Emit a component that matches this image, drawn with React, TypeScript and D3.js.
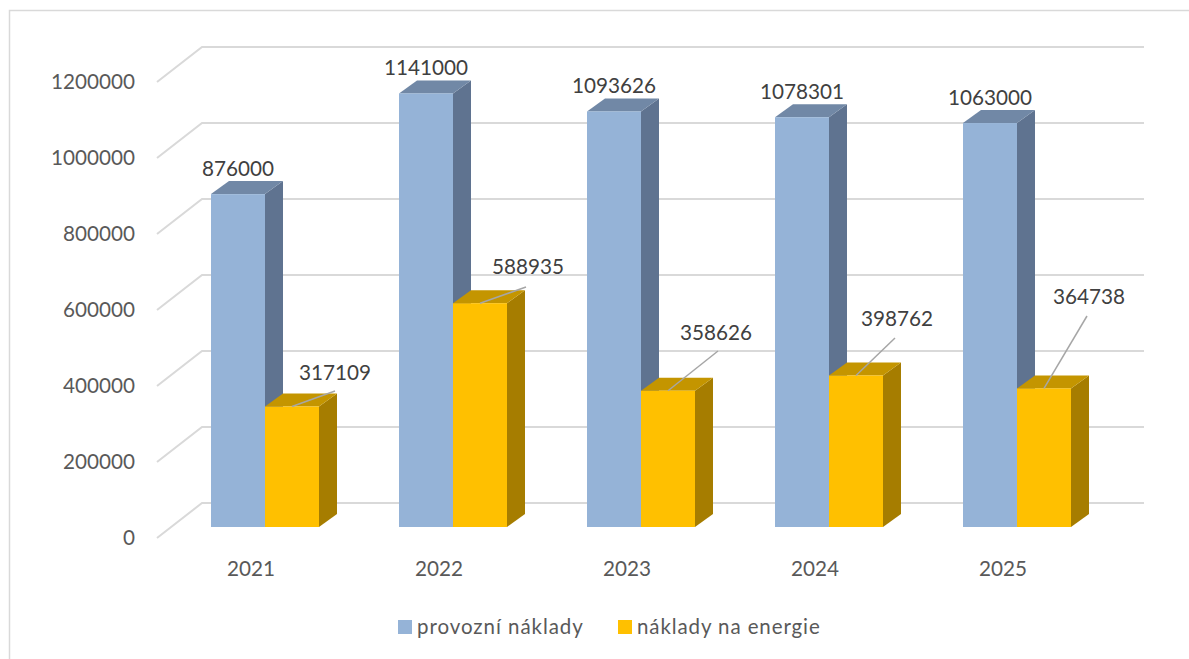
import React from "react";
import * as d3 from "d3";

const categories = ["2021", "2022", "2023", "2024", "2025"];
const provozni = [876000, 1141000, 1093626, 1078301, 1063000];
const energie = [317109, 588935, 358626, 398762, 364738];
const yTicks = [0, 200000, 400000, 600000, 800000, 1000000, 1200000];
const seriesNames = ["provozní náklady", "náklady na energie"];

const W = 1189, H = 659;
const font = "Lato, 'Open Sans', sans-serif";
const FRONT = { fill: "#95B3D7", side: "#5F7390", top: "#7188A6" };
const GOLD = { fill: "#FFC000", side: "#A67D00", top: "#C49500" };

const x = d3.scaleBand<string>().domain(categories).range([157, 1097]).paddingInner(0).paddingOuter(0);
const y = d3.scaleLinear().domain([0, 1200000]).range([527, 71]);
const barW = 54;
const depthX = 18, depthY = 13;
const wallTop = d3.scaleLinear().domain([0, 1200000]).range([503, 47]);
const tickY = d3.scaleLinear().domain([0, 1200000]).range([538, 82]);

// manual label placement for the second series
const energyLabelX = [335, 528, 716, 897, 1089];
const energyLabelY = [380, 274, 340, 326, 304];
const leaderEndX = [335, 526, 718, 895, 1087];
const leaderEndY = [391, 287, 351, 338, 316];

const fmt = (v: number) => String(v);

function Bar({ x0, value, c }: { x0: number; value: number; c: typeof FRONT }) {
  const yt = y(value), yb = y(0), x1 = x0 + barW;
  const top = d3.line()([[x0, yt], [x1, yt], [x1 + depthX, yt - depthY], [x0 + depthX, yt - depthY]]) + "Z";
  const side = d3.line()([[x1, yt], [x1 + depthX, yt - depthY], [x1 + depthX, yb - depthY], [x1, yb]]) + "Z";
  return (
    <g>
      <path d={side} fill={c.side} />
      <path d={top} fill={c.top} />
      <rect x={x0} y={yt} width={barW} height={yb - yt} fill={c.fill} />
    </g>
  );
}

export default function App() {
  return (
    <svg width={W} height={H} viewBox={`0 0 ${W} ${H}`} style={{ position: "absolute", left: 0, top: 0, display: "block", background: "#fff" }} fontFamily={font}>
      <path d={`M9.5 ${H}V10.5H${W}`} fill="none" stroke="#d9d9d9" strokeWidth={1.5} />
      {yTicks.map((t) => (
        <g key={t}>
          <path d={`M157 ${tickY(t)}L202 ${wallTop(t)}H1144`} fill="none" stroke="#d9d9d9" strokeWidth={2} />
          <text x={135} y={tickY(t) + 7} textAnchor="end" fontSize={20.7} fill="#595959">{t}</text>
        </g>
      ))}
      {categories.map((cat, i) => {
        const x0 = x(cat)! + 54;
        return (
          <g key={cat}>
            <Bar x0={x0} value={provozni[i]} c={FRONT} />
            <Bar x0={x0 + barW} value={energie[i]} c={GOLD} />
            <path d={`M${x0 + barW + 27} ${y(energie[i])}L${leaderEndX[i]} ${leaderEndY[i]}`} stroke="#A6A6A6" strokeWidth={1.5} fill="none" />
            <text x={x0 + 27} y={y(provozni[i]) - 18} textAnchor="middle" fontSize={20.7} fill="#404040">{fmt(provozni[i])}</text>
            <text x={energyLabelX[i]} y={energyLabelY[i]} textAnchor="middle" fontSize={20.7} fill="#404040">{fmt(energie[i])}</text>
            <text x={x0 + 40} y={576} textAnchor="middle" fontSize={20.7} fill="#595959">{cat}</text>
          </g>
        );
      })}
      <rect x={398} y={620} width={14} height={14} fill={FRONT.fill} />
      <text x={417} y={634} fontSize={20.5} letterSpacing={0.95} fill="#595959">{seriesNames[0]}</text>
      <rect x={618} y={620} width={14} height={14} fill={GOLD.fill} />
      <text x={637} y={634} fontSize={20.5} letterSpacing={0.9} fill="#595959">{seriesNames[1]}</text>
    </svg>
  );
}
